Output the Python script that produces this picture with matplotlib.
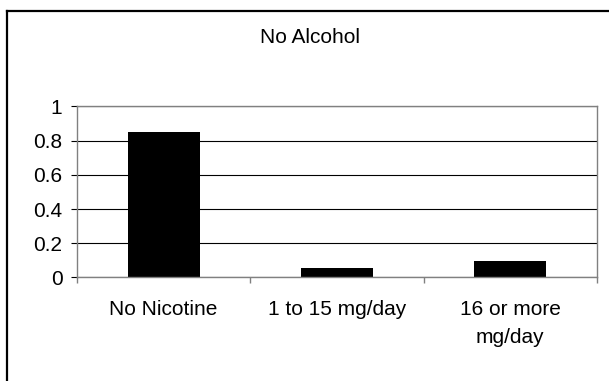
import matplotlib.pyplot as plt
from matplotlib.lines import Line2D

# Data
categories = ["No Nicotine", "1 to 15 mg/day", "16 or more\nmg/day"]
values = [0.85, 0.058, 0.095]
yticks = [0, 0.2, 0.4, 0.6, 0.8, 1]
ytick_labels = ["0", "0.2", "0.4", "0.6", "0.8", "1"]
title = "No Alcohol"

plt.rcParams["font.family"] = ["Liberation Sans", "DejaVu Sans"]

fig = plt.figure(figsize=(6.09, 3.81), dpi=100)
ax = fig.add_axes([0.1264, 0.2717, 0.8539, 0.4488])

x = list(range(len(categories)))
ax.bar(x, values, width=0.415, color="black", zorder=3)

# Horizontal gridlines (black), plot area frame in grey
ax.set_axisbelow(True)
ax.yaxis.grid(True, color="black", linewidth=0.8)
for side in ["top", "right", "left", "bottom"]:
    ax.spines[side].set_color("#808080")
    ax.spines[side].set_linewidth(1.0)
    ax.spines[side].set_zorder(4)

ax.set_xlim(-0.5, len(categories) - 0.5)
ax.set_ylim(0, 1)
ax.set_yticks(yticks)
ax.set_yticklabels(ytick_labels)
ax.tick_params(axis="y", direction="out", length=4, width=0.8,
               color="black", labelsize=15, pad=6.5)

# Category labels centred, tick marks between categories
ax.set_xticks(x)
ax.set_xticklabels(categories, fontsize=15, linespacing=1.6)
ax.set_xticks([i - 0.5 for i in range(len(categories) + 1)], minor=True)
ax.tick_params(axis="x", which="major", length=0, pad=16)
ax.tick_params(axis="x", which="minor", direction="out", length=4.5,
               width=1.0, color="#808080")

fig.text(0.509, 0.902, title, ha="center", va="center", fontsize=15)

# Outer chart border (only top and left edges fall inside the image)
fig.add_artist(Line2D([7 / 609, 7 / 609], [0, 1 - 10.5 / 381],
                      transform=fig.transFigure, color="black", linewidth=1.6))
fig.add_artist(Line2D([7 / 609, 1], [1 - 10.5 / 381, 1 - 10.5 / 381],
                      transform=fig.transFigure, color="black", linewidth=1.6))

fig.savefig("out.png", dpi=100)
